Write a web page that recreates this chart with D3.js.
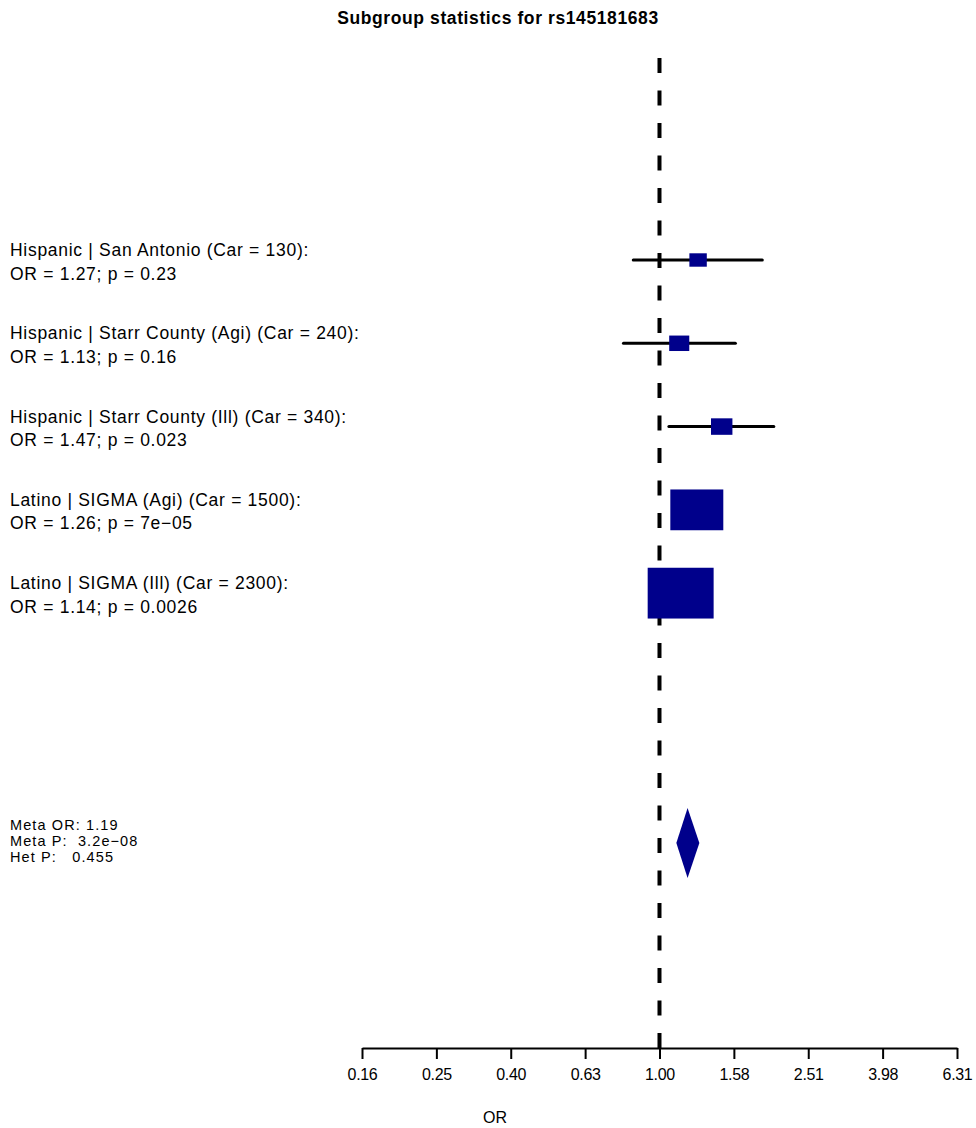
<!DOCTYPE html>
<html>
<head>
<meta charset="utf-8">
<script src="https://cdn.jsdelivr.net/npm/d3@7"></script>
<style>
  body { margin: 0; background: #fff; }
  text { font-family: "Liberation Sans", Arial, Helvetica, sans-serif; fill: #000; }
</style>
</head>
<body>
<svg id="chart"></svg>
<script>
let width = 976, height = 1128;

// subgroup data
let studies = [
    "Hispanic | San Antonio",
    "Hispanic | Starr County (Agi)",
    "Hispanic | Starr County (Ill)",
    "Latino | SIGMA (Agi)",
    "Latino | SIGMA (Ill)"
];
let carriers = [130, 240, 340, 1500, 2300];
let orValues = [1.27, 1.13, 1.47, 1.26, 1.14];
let pValues = ["0.23", "0.16", "0.023", "7e\u221205", "0.0026"];
let ciLower = [0.85, 0.80, 1.06, 1.105, 1.026];
let ciUpper = [1.89, 1.60, 2.03, 1.437, 1.267];

// meta analysis
let metaOR = 1.19, metaLower = 1.11, metaUpper = 1.28;
let metaP = "3.2e\u221208", hetP = "0.455";

// axis ticks
let tickValues = [0.1585, 0.2512, 0.3981, 0.631, 1, 1.585, 2.512, 3.981, 6.310];
let tickLabels = ["0.16", "0.25", "0.40", "0.63", "1.00", "1.58", "2.51", "3.98", "6.31"];

let rows = studies.map((s, i) => ({
    study: s,
    car: carriers[i],
    or: orValues[i],
    p: pValues[i],
    lo: ciLower[i],
    hi: ciUpper[i],
    row: i
}));

let svg = d3.select('#chart')
    .attr('width', width)
    .attr('height', height);

let x = d3.scaleLog()
    .domain([tickValues[0], tickValues[tickValues.length - 1]])
    .range([362, 957]);

// row index -> y, meta sits on row 7
let y = d3.scaleLinear()
    .domain([0, 7])
    .range([260, 843]);

// box width ~ 1/se
let boxScale = d3.scaleLinear().domain([0, 1]).range([0, 3.55]);
let invSe = (d) => 3.92 / (Math.log(d.hi) - Math.log(d.lo));

// title
svg.append('text')
    .attr('x', 498)
    .attr('y', 24)
    .attr('text-anchor', 'middle')
    .attr('font-weight', 'bold')
    .attr('font-size', 17.5)
    .attr('letter-spacing', 0.6)
    .text("Subgroup statistics for rs145181683");

// reference line at OR = 1
svg.append('line')
    .attr('x1', x(1)).attr('x2', x(1))
    .attr('y1', 58).attr('y2', 1048)
    .attr('stroke', 'black')
    .attr('stroke-width', 4)
    .attr('stroke-dasharray', '15,17.5');

// confidence intervals
svg.append('g')
    .selectAll('line')
    .data(rows)
    .enter().append('line')
    .attr('x1', (d) => x(d.lo))
    .attr('x2', (d) => x(d.hi))
    .attr('y1', (d) => y(d.row))
    .attr('y2', (d) => y(d.row))
    .attr('stroke', 'black')
    .attr('stroke-width', 3)
    .attr('stroke-linecap', 'round');

// boxes
svg.append('g')
    .selectAll('rect')
    .data(rows)
    .enter().append('rect')
    .attr('x', (d) => x(d.or) - boxScale(invSe(d)) / 2)
    .attr('y', (d) => y(d.row) - boxScale(invSe(d)) * 0.77 / 2)
    .attr('width', (d) => boxScale(invSe(d)))
    .attr('height', (d) => boxScale(invSe(d)) * 0.77)
    .attr('fill', 'darkblue');

// row labels
let labels = svg.append('g')
    .selectAll('text')
    .data(rows)
    .enter().append('text')
    .attr('font-size', 17.5)
    .attr('letter-spacing', 0.7);

labels.append('tspan')
    .attr('x', 10)
    .attr('y', (d) => y(d.row) - 4)
    .text((d) => d.study + " (Car = " + d.car + "):");

labels.append('tspan')
    .attr('x', 10)
    .attr('y', (d) => y(d.row) + 19.5)
    .text((d) => "OR = " + d.or.toFixed(2) + "; p = " + d.p);

// meta diamond
let my = y(7), mh = 35;
svg.append('path')
    .attr('d', d3.line()([
        [x(metaLower), my],
        [x(metaOR), my - mh],
        [x(metaUpper), my],
        [x(metaOR), my + mh]
    ]) + 'Z')
    .attr('fill', 'darkblue');

let metaLines = [
    "Meta OR: " + metaOR.toFixed(2),
    "Meta P:  " + metaP,
    "Het P:   " + hetP
];
svg.append('g')
    .selectAll('text')
    .data(metaLines)
    .enter().append('text')
    .attr('x', 10)
    .attr('y', (d, i) => my - 13 + i * 16)
    .attr('font-size', 14.5)
    .attr('letter-spacing', 1.1)
    .attr('xml:space', 'preserve')
    .style('white-space', 'pre')
    .text((d) => d);

// x axis
let axis = svg.append('g')
    .attr('transform', 'translate(0,1048)')
    .call(d3.axisBottom(x)
        .tickValues(tickValues)
        .tickFormat((d, i) => tickLabels[i])
        .tickSize(11)
        .tickSizeOuter(0)
        .tickPadding(10));

axis.attr('font-family', null).attr('font-size', null);
axis.select('.domain').attr('stroke-width', 2);
axis.selectAll('.tick line').attr('stroke-width', 2);
axis.selectAll('.tick text')
    .style('font-family', '"Liberation Sans", Arial, sans-serif')
    .style('font-size', '16px')
    .attr('letter-spacing', -0.3);

svg.append('text')
    .attr('x', 495)
    .attr('y', 1123)
    .attr('text-anchor', 'middle')
    .attr('font-size', 16)
    .text("OR");
</script>
</body>
</html>
